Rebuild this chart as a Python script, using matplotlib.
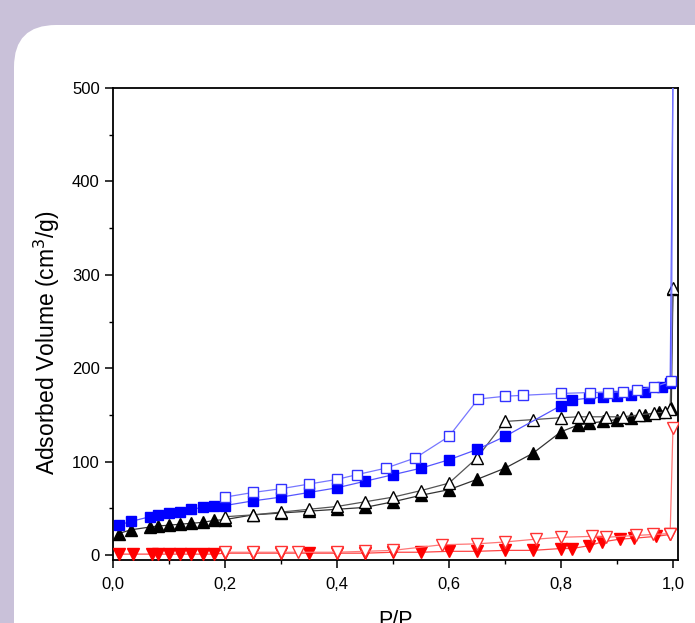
import matplotlib
matplotlib.use("Agg")
import matplotlib.pyplot as plt
from matplotlib.patches import FancyBboxPatch
from matplotlib.transforms import IdentityTransform
from matplotlib.ticker import FuncFormatter, MultipleLocator

plt.rcParams['font.family'] = ['Liberation Sans', 'DejaVu Sans']

# Muestra 1 (azul) - adsorcion / desorcion
azul_ads_x = [0.01, 0.032, 0.066, 0.08, 0.10, 0.12, 0.14, 0.16, 0.18, 0.20, 0.25, 0.30, 0.35,
              0.40, 0.45, 0.50, 0.55, 0.60, 0.65, 0.70, 0.80, 0.82, 0.85, 0.875, 0.90, 0.925,
              0.95, 0.98, 0.995, 1.0]
azul_ads_y = [32, 36, 41, 43, 45, 46, 49, 51, 52, 53, 58, 62, 67, 72, 79, 86, 93, 102, 113, 127,
              160, 166, 168, 169, 170, 171, 175, 180, 184, 515]
azul_des_x = [1.0, 0.997, 0.966, 0.935, 0.91, 0.884, 0.852, 0.80, 0.732, 0.70, 0.652, 0.60,
              0.54, 0.487, 0.435, 0.40, 0.35, 0.30, 0.25, 0.20]
azul_des_y = [515, 186, 180, 177, 175, 174, 174, 173, 171, 170, 167, 127, 104, 93, 86, 81, 76,
              71, 67, 62]

# Muestra 2 (negro)
negro_ads_x = [0.01, 0.032, 0.066, 0.08, 0.10, 0.12, 0.14, 0.16, 0.18, 0.20, 0.25, 0.30, 0.35,
               0.40, 0.45, 0.50, 0.55, 0.60, 0.65, 0.70, 0.75, 0.80, 0.83, 0.85, 0.875, 0.90,
               0.925, 0.95, 0.975, 0.997, 1.0]
negro_ads_y = [23, 27, 30, 31, 32, 33, 34, 35, 37, 38, 43, 45, 47, 49, 51, 57, 64, 70, 81, 93,
               109, 132, 139, 141, 143, 145, 147, 150, 153, 157, 285]
negro_des_x = [1.0, 0.995, 0.985, 0.966, 0.94, 0.91, 0.88, 0.85, 0.83, 0.80, 0.75, 0.70, 0.65,
               0.60, 0.55, 0.50, 0.45, 0.40, 0.35, 0.30, 0.25, 0.20]
negro_des_y = [286, 156, 153, 152, 150, 148, 148, 148, 148, 147, 145, 143, 104, 77, 69, 62, 57,
               52, 49, 46, 43, 41]

# Muestra 3 (rojo)
rojo_ads_x = [0.01, 0.035, 0.07, 0.08, 0.10, 0.12, 0.14, 0.16, 0.18, 0.20, 0.25, 0.30, 0.35,
              0.40, 0.45, 0.50, 0.55, 0.60, 0.65, 0.70, 0.75, 0.80, 0.82, 0.85, 0.873, 0.905,
              0.93, 0.97, 0.995]
rojo_ads_y = [1, 1, 1, 1, 1, 1, 1, 1, 1, 2, 2, 2, 2, 2, 2, 3, 3, 4, 4, 5, 5, 7, 7, 10, 14, 17,
              18, 20, 22]
rojo_des_x = [1.0, 0.995, 0.965, 0.934, 0.88, 0.855, 0.80, 0.755, 0.70, 0.65, 0.587, 0.50,
              0.45, 0.40, 0.33, 0.30, 0.25, 0.20]
rojo_des_y = [136, 23, 22, 21, 19, 20, 19, 17, 14, 12, 11, 5, 4, 3, 3, 3, 3, 3]

fig = plt.figure(figsize=(6.95, 6.23), dpi=100)
fig.patch.set_facecolor('#c9c1d9')

# Panel blanco redondeado (detras de los ejes)
panel = FancyBboxPatch((14, -80), 760, 598 + 80, boxstyle="round,pad=0,rounding_size=42",
                       transform=IdentityTransform(), facecolor='white', edgecolor='none',
                       zorder=-10)
fig.patches.append(panel)

ax = fig.add_axes([113 / 695, 63 / 623, 565 / 695, 472 / 623])
ax.set_facecolor('white')

ms_sq = 7.5
ms_tri = 9

# negro
ax.plot(negro_ads_x, negro_ads_y, '-', color='#333333', lw=0.9, marker='^', ms=ms_tri,
        mfc='black', mec='black', zorder=3)
ax.plot(negro_des_x, negro_des_y, '-', color='#555555', lw=0.9, marker='^', ms=ms_tri,
        mfc='white', mec='black', mew=1.0, zorder=3)
# azul
ax.plot(azul_ads_x, azul_ads_y, '-', color='#5555ff', lw=0.9, marker='s', ms=ms_sq,
        mfc='#0000ff', mec='#0000ff', zorder=4)
ax.plot(azul_des_x, azul_des_y, '-', color='#7777ff', lw=0.9, marker='s', ms=ms_sq,
        mfc='white', mec='#3333ff', mew=1.0, zorder=4)
# rojo
ax.plot(rojo_ads_x, rojo_ads_y, '-', color='#ff4444', lw=0.9, marker='v', ms=ms_tri,
        mfc='#ff0000', mec='#ff0000', zorder=3)
ax.plot(rojo_des_x, rojo_des_y, '-', color='#ff7777', lw=0.9, marker='v', ms=ms_tri,
        mfc='white', mec='#ff3333', mew=1.0, zorder=3)

ax.set_xlim(0, 1.009)
ax.set_ylim(-5.3, 500)

ax.xaxis.set_major_locator(MultipleLocator(0.2))
ax.xaxis.set_minor_locator(MultipleLocator(0.1))
ax.yaxis.set_major_locator(MultipleLocator(100))
ax.yaxis.set_minor_locator(MultipleLocator(50))
ax.xaxis.set_major_formatter(FuncFormatter(lambda v, p: f"{v:.1f}".replace('.', ',')))

ax.tick_params(which='major', direction='out', length=6, width=1.1, labelsize=12,
               top=False, right=False)
ax.tick_params(which='minor', direction='out', length=3, width=1.0, top=False, right=False)
ax.tick_params(axis='x', pad=6)

for s in ax.spines.values():
    s.set_linewidth(1.3)
    s.set_color('black')

ax.set_xlabel('P/P', fontsize=15.5, labelpad=13)
ax.set_ylabel('Adsorbed Volume (cm$^3$/g)', fontsize=16.5)
ax.yaxis.set_label_coords(-0.09, 0.46)

fig.savefig('out.png', dpi=100, facecolor=fig.get_facecolor())
